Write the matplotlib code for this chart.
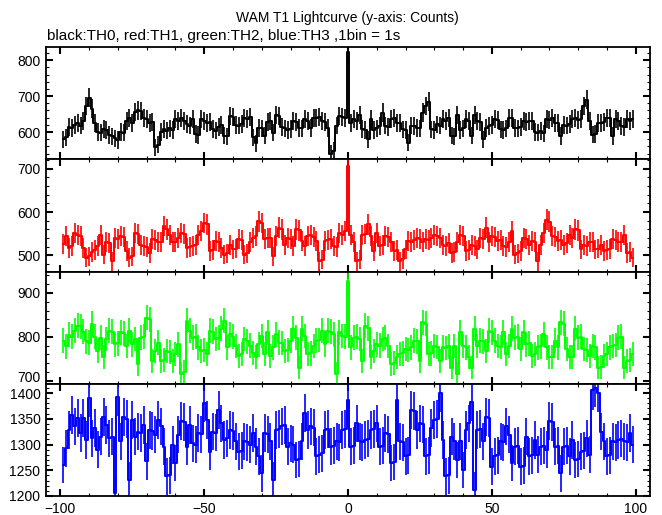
import numpy as np
import matplotlib.pyplot as plt
from matplotlib.ticker import MultipleLocator
from matplotlib.transforms import ScaledTranslation

plt.rcParams['font.family'] = ['Liberation Sans', 'DejaVu Sans']

# 1 s bins, centred on the trigger time
time = np.arange(-99, 100)

th0 = [580, 585, 615, 612, 620, 625, 618, 632, 672, 695,
       665, 625, 600, 598, 608, 605, 592, 588, 582, 578,
       600, 598, 632, 638, 625, 655, 660, 658, 640, 636,
       626, 628, 558, 565, 600, 608, 604, 610, 606, 635,
       630, 638, 632, 622, 618, 635, 595, 592, 636, 632,
       626, 628, 608, 604, 615, 620, 590, 588, 645, 642,
       620, 618, 622, 640, 636, 642, 585, 568, 612, 610,
       590, 628, 632, 598, 648, 645, 614, 610, 605, 608,
       630, 628, 612, 610, 636, 632, 612, 640, 638, 642,
       630, 628, 612, 540, 548, 618, 645, 642, 640, 822,
       626, 636, 632, 648, 608, 605, 580, 635, 606, 610,
       617, 654, 618, 615, 635, 638, 626, 624, 607, 605,
       570, 618, 616, 612, 610, 654, 672, 685, 607, 605,
       621, 618, 635, 630, 638, 590, 588, 648, 606, 610,
       635, 632, 590, 648, 630, 628, 580, 612, 617, 620,
       636, 634, 607, 605, 610, 640, 638, 612, 610, 615,
       630, 628, 632, 630, 600, 598, 602, 596, 636, 634,
       638, 626, 624, 589, 620, 618, 622, 635, 638, 634,
       636, 672, 690, 630, 593, 595, 626, 624, 628, 640,
       638, 589, 635, 632, 617, 615, 636, 632, 635]

th1 = [527, 545, 518, 522, 552, 548, 545, 518, 495, 498,
       508, 512, 522, 548, 502, 530, 528, 487, 540, 538,
       545, 542, 510, 495, 498, 552, 550, 525, 522, 520,
       506, 537, 535, 530, 532, 568, 560, 548, 530, 532,
       541, 552, 550, 518, 520, 522, 524, 548, 556, 575,
       572, 510, 512, 533, 530, 518, 502, 505, 525, 514,
       516, 537, 535, 502, 505, 530, 541, 545, 579, 575,
       537, 541, 540, 498, 545, 564, 560, 525, 541, 538,
       522, 560, 558, 533, 522, 545, 548, 542, 533, 487,
       490, 533, 535, 537, 522, 520, 552, 548, 556, 706,
       548, 530, 487, 490, 548, 550, 572, 545, 510, 552,
       522, 525, 545, 542, 530, 510, 512, 487, 492, 514,
       533, 530, 535, 541, 538, 530, 537, 535, 540, 548,
       545, 541, 525, 522, 528, 506, 508, 530, 548, 545,
       510, 512, 525, 522, 514, 541, 538, 564, 530, 545,
       542, 533, 535, 522, 520, 530, 556, 502, 505, 510,
       541, 538, 525, 533, 530, 487, 525, 552, 583, 578,
       545, 542, 533, 535, 525, 528, 548, 541, 560, 558,
       514, 525, 522, 530, 532, 514, 516, 525, 510, 512,
       515, 537, 535, 530, 532, 548, 506, 508, 495]

th2 = [791, 778, 805, 800, 814, 825, 824, 812, 790, 787,
       829, 800, 768, 798, 753, 795, 814, 812, 783, 785,
       810, 808, 779, 814, 783, 795, 738, 798, 800, 844,
       840, 745, 768, 787, 745, 748, 768, 766, 745, 760,
       783, 715, 720, 837, 814, 798, 800, 776, 768, 770,
       760, 814, 812, 795, 798, 818, 837, 776, 806, 800,
       779, 757, 760, 795, 790, 780, 764, 753, 783, 802,
       760, 810, 757, 776, 806, 787, 786, 768, 770, 791,
       818, 798, 730, 818, 802, 760, 762, 779, 791, 793,
       814, 783, 814, 812, 806, 715, 810, 802, 800, 928,
       776, 798, 800, 795, 745, 825, 820, 753, 768, 783,
       780, 795, 798, 779, 738, 740, 753, 760, 762, 772,
       770, 776, 791, 790, 745, 833, 830, 760, 762, 779,
       777, 745, 776, 774, 778, 730, 779, 715, 810, 779,
       776, 753, 730, 818, 779, 791, 790, 768, 814, 810,
       791, 779, 777, 810, 760, 779, 818, 798, 800, 772,
       810, 783, 785, 757, 760, 776, 778, 806, 776, 753,
       755, 791, 776, 833, 830, 772, 753, 755, 818, 798,
       800, 772, 770, 757, 779, 776, 730, 732, 757, 760,
       776, 779, 781, 798, 800, 730, 745, 748, 760]

th3 = [1260, 1293, 1328, 1358, 1335, 1351, 1322, 1351, 1309, 1390,
       1312, 1332, 1290, 1315, 1354, 1338, 1312, 1315, 1205, 1393,
       1306, 1354, 1350, 1231, 1348, 1315, 1325, 1322, 1338, 1267,
       1328, 1326, 1319, 1348, 1335, 1296, 1238, 1240, 1299, 1264,
       1319, 1345, 1343, 1296, 1338, 1302, 1300, 1322, 1320, 1380,
       1348, 1286, 1325, 1323, 1367, 1341, 1309, 1312, 1328, 1326,
       1306, 1286, 1288, 1306, 1304, 1300, 1322, 1296, 1277, 1244,
       1322, 1320, 1306, 1231, 1328, 1330, 1335, 1338, 1296, 1302,
       1300, 1270, 1272, 1306, 1361, 1328, 1335, 1333, 1277, 1280,
       1283, 1328, 1330, 1296, 1298, 1306, 1304, 1328, 1330, 1387,
       1296, 1298, 1341, 1306, 1304, 1309, 1311, 1328, 1330, 1341,
       1296, 1298, 1322, 1320, 1264, 1266, 1387, 1306, 1304, 1277,
       1279, 1367, 1365, 1328, 1341, 1339, 1277, 1279, 1332, 1348,
       1350, 1400, 1309, 1238, 1240, 1315, 1306, 1270, 1306, 1251,
       1328, 1341, 1383, 1212, 1328, 1330, 1306, 1354, 1352, 1257,
       1277, 1279, 1306, 1304, 1335, 1319, 1264, 1296, 1298, 1257,
       1259, 1315, 1277, 1279, 1309, 1280, 1296, 1298, 1290, 1345,
       1343, 1296, 1298, 1244, 1296, 1298, 1277, 1309, 1270, 1272,
       1286, 1288, 1312, 1280, 1405, 1410, 1400, 1325, 1306, 1277,
       1279, 1306, 1304, 1309, 1311, 1306, 1304, 1322, 1300]

colors = ['black', 'red', '#00ff00', 'blue']
ylims = [(524, 837), (463, 722), (693, 949), (1200, 1418)]
yticks = [[600, 700, 800], [500, 600, 700], [700, 800, 900],
          [1200, 1250, 1300, 1350, 1400]]
minor = [20, 20, 20, 10]

fig, axes = plt.subplots(4, 1, figsize=(6.62, 5.15), dpi=100, sharex=True,
                         gridspec_kw=dict(hspace=0))
fig.subplots_adjust(left=0.0695, right=0.982, bottom=0.0369, top=0.9087)

for ax, counts, c, yl, yt, mn in zip(axes, [th0, th1, th2, th3], colors,
                                     ylims, yticks, minor):
    counts = np.array(counts, dtype=float)
    err = np.sqrt(counts)  # poisson errors
    ax.step(time, counts, where='mid', color=c, lw=1.4)
    ax.errorbar(time, counts, yerr=err, fmt='none', ecolor=c,
                elinewidth=1.2, capsize=0)
    ax.set_ylim(*yl)
    ax.set_xlim(-105, 105)
    ax.set_yticks(yt)
    ax.yaxis.set_minor_locator(MultipleLocator(mn))
    ax.xaxis.set_major_locator(MultipleLocator(50))
    ax.xaxis.set_minor_locator(MultipleLocator(10))
    ax.tick_params(which='both', direction='in', top=True, right=True,
                   labelsize=10)
    ax.tick_params(which='major', length=5, width=1.5, pad=4)
    ax.tick_params(which='minor', length=2.5, width=0.8)
    for s in ax.spines.values():
        s.set_linewidth(1.3)

# lowest label of the green panel sits a bit higher, like the original
lab = axes[2].get_yticklabels()[0]
lab.set_transform(lab.get_transform() +
                  ScaledTranslation(0, 3 / 72, fig.dpi_scale_trans))

fig.text(0.524, 1 - 18 / 515, 'WAM T1 Lightcurve (y-axis: Counts)',
         ha='center', va='center', fontsize=10)
fig.text(47 / 662, 1 - 36 / 515,
         'black:TH0, red:TH1, green:TH2, blue:TH3 ,1bin = 1s',
         ha='left', va='center', fontsize=11)

fig.savefig('out.png', dpi=100)
